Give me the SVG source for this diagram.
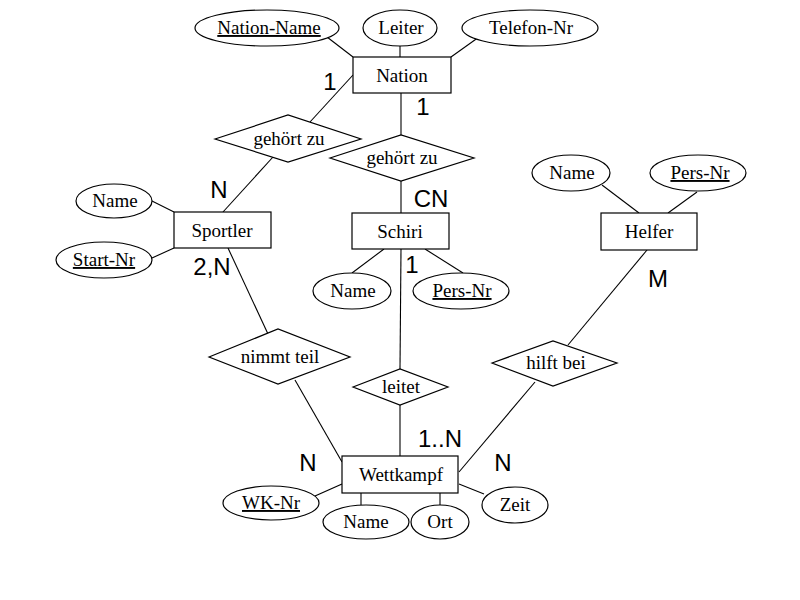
<svg xmlns="http://www.w3.org/2000/svg" width="800" height="600" viewBox="0 0 800 600">
  <style>
    .shape { fill: #fff; stroke: #000; stroke-width: 1.2; }
    .link { stroke: #000; stroke-width: 1.1; fill: none; }
    .t { font-family: "Liberation Serif", "Times New Roman", serif; font-size: 19px; fill: #000; text-anchor: middle; }
    .key { text-decoration: underline; }
    .card { font-family: "Liberation Sans", Arial, sans-serif; font-size: 24px; fill: #000; text-anchor: middle; }
  </style>
  <rect width="800" height="600" fill="#fff"/>

  <!-- connectors -->
  <g id="connectors" class="link">
    <!-- Nation attributes -->
    <line x1="327" y1="37" x2="353" y2="57"/>
    <line x1="400" y1="46" x2="400" y2="57"/>
    <line x1="479" y1="37" x2="451" y2="57"/>
    <!-- Nation - gehört zu (Sportler) -->
    <line x1="353" y1="75" x2="310" y2="122"/>
    <!-- gehört zu - Sportler -->
    <line x1="273" y1="157" x2="223" y2="212"/>
    <!-- Nation - gehört zu (Schiri) - Schiri -->
    <line x1="401" y1="93" x2="401" y2="135"/>
    <line x1="401" y1="181" x2="401" y2="213"/>
    <!-- Sportler attributes -->
    <line x1="152" y1="201" x2="174" y2="212"/>
    <line x1="152" y1="258" x2="174" y2="248"/>
    <!-- Schiri attributes -->
    <line x1="384" y1="249" x2="352" y2="273"/>
    <line x1="425" y1="249" x2="463" y2="273"/>
    <!-- Helfer attributes -->
    <line x1="602" y1="185" x2="639" y2="213"/>
    <line x1="697" y1="192" x2="668" y2="213"/>
    <!-- Sportler - nimmt teil - Wettkampf -->
    <line x1="228" y1="248" x2="268" y2="334"/>
    <line x1="295" y1="380" x2="342" y2="462"/>
    <!-- Schiri - leitet - Wettkampf -->
    <line x1="401" y1="249" x2="400" y2="369"/>
    <line x1="400" y1="405" x2="400" y2="456"/>
    <!-- Helfer - hilft bei - Wettkampf -->
    <line x1="647" y1="250" x2="568" y2="345"/>
    <line x1="535" y1="382" x2="459" y2="472"/>
    <!-- Wettkampf attributes -->
    <line x1="315" y1="496" x2="342" y2="484"/>
    <line x1="361" y1="493" x2="361" y2="505"/>
    <line x1="440" y1="493" x2="440" y2="505"/>
    <line x1="459" y1="484" x2="484" y2="494"/>
  </g>

  <!-- entities -->
  <g id="nation">
    <rect class="shape" x="353" y="57" width="98" height="36"/>
    <text class="t" x="402" y="82">Nation</text>
  </g>
  <g id="sportler">
    <rect class="shape" x="174" y="212" width="97" height="36"/>
    <text class="t" x="222" y="237">Sportler</text>
  </g>
  <g id="schiri">
    <rect class="shape" x="352" y="213" width="97" height="36"/>
    <text class="t" x="400" y="238">Schiri</text>
  </g>
  <g id="helfer">
    <rect class="shape" x="601" y="213" width="96" height="37"/>
    <text class="t" x="649" y="238">Helfer</text>
  </g>
  <g id="wettkampf">
    <rect class="shape" x="342" y="456" width="116" height="37"/>
    <text class="t" x="401" y="481">Wettkampf</text>
  </g>

  <!-- relationships -->
  <g id="gehoert-zu-sportler">
    <polygon class="shape" points="215,139 288,115 361,139 288,162"/>
    <text class="t" x="289" y="145">gehört zu</text>
  </g>
  <g id="gehoert-zu-schiri">
    <polygon class="shape" points="330,158 401,135 474,158 401,181"/>
    <text class="t" x="402" y="164">gehört zu</text>
  </g>
  <g id="nimmt-teil">
    <polygon class="shape" points="209,357 278,329 350,357 278,384"/>
    <text class="t" x="280" y="363">nimmt teil</text>
  </g>
  <g id="leitet">
    <polygon class="shape" points="353,387 400,369 448,387 400,405"/>
    <text class="t" x="401" y="393">leitet</text>
  </g>
  <g id="hilft-bei">
    <polygon class="shape" points="492,363 553,341 617,363 553,386"/>
    <text class="t" x="556" y="369">hilft bei</text>
  </g>

  <!-- attributes -->
  <g id="attr-nation-name">
    <ellipse class="shape" cx="267" cy="28" rx="72" ry="18"/>
    <text class="t key" x="269" y="34">Nation-Name</text>
  </g>
  <g id="attr-leiter">
    <ellipse class="shape" cx="400" cy="28" rx="37" ry="18"/>
    <text class="t" x="401" y="34">Leiter</text>
  </g>
  <g id="attr-telefon-nr">
    <ellipse class="shape" cx="530" cy="28" rx="68" ry="18"/>
    <text class="t" x="531" y="34">Telefon-Nr</text>
  </g>
  <g id="attr-sportler-name">
    <ellipse class="shape" cx="114" cy="201" rx="38" ry="17"/>
    <text class="t" x="115" y="207">Name</text>
  </g>
  <g id="attr-start-nr">
    <ellipse class="shape" cx="104" cy="260" rx="48" ry="18"/>
    <text class="t key" x="104" y="266">Start-Nr</text>
  </g>
  <g id="attr-schiri-name">
    <ellipse class="shape" cx="352" cy="291" rx="39" ry="18"/>
    <text class="t" x="353" y="297">Name</text>
  </g>
  <g id="attr-schiri-pers-nr">
    <ellipse class="shape" cx="461" cy="291" rx="48" ry="18"/>
    <text class="t key" x="462" y="297">Pers-Nr</text>
  </g>
  <g id="attr-helfer-name">
    <ellipse class="shape" cx="571" cy="173" rx="39" ry="18"/>
    <text class="t" x="572" y="179">Name</text>
  </g>
  <g id="attr-helfer-pers-nr">
    <ellipse class="shape" cx="698" cy="173" rx="48" ry="18"/>
    <text class="t key" x="700" y="179">Pers-Nr</text>
  </g>
  <g id="attr-wk-nr">
    <ellipse class="shape" cx="271" cy="503" rx="48" ry="17"/>
    <text class="t key" x="271" y="509">WK-Nr</text>
  </g>
  <g id="attr-wk-name">
    <ellipse class="shape" cx="366" cy="522" rx="43" ry="17"/>
    <text class="t" x="366" y="528">Name</text>
  </g>
  <g id="attr-ort">
    <ellipse class="shape" cx="440" cy="522" rx="29" ry="17"/>
    <text class="t" x="440" y="528">Ort</text>
  </g>
  <g id="attr-zeit">
    <ellipse class="shape" cx="515" cy="505" rx="33" ry="18"/>
    <text class="t" x="515" y="511">Zeit</text>
  </g>

  <!-- cardinalities -->
  <g id="cardinalities">
    <text class="card" x="330" y="90">1</text>
    <text class="card" x="423" y="115">1</text>
    <text class="card" x="219" y="198">N</text>
    <text class="card" x="212" y="275">2,N</text>
    <text class="card" x="431" y="207">CN</text>
    <text class="card" x="412" y="273">1</text>
    <text class="card" x="658" y="287">M</text>
    <text class="card" x="440" y="447">1..N</text>
    <text class="card" x="308" y="471">N</text>
    <text class="card" x="503" y="471">N</text>
  </g>
</svg>
